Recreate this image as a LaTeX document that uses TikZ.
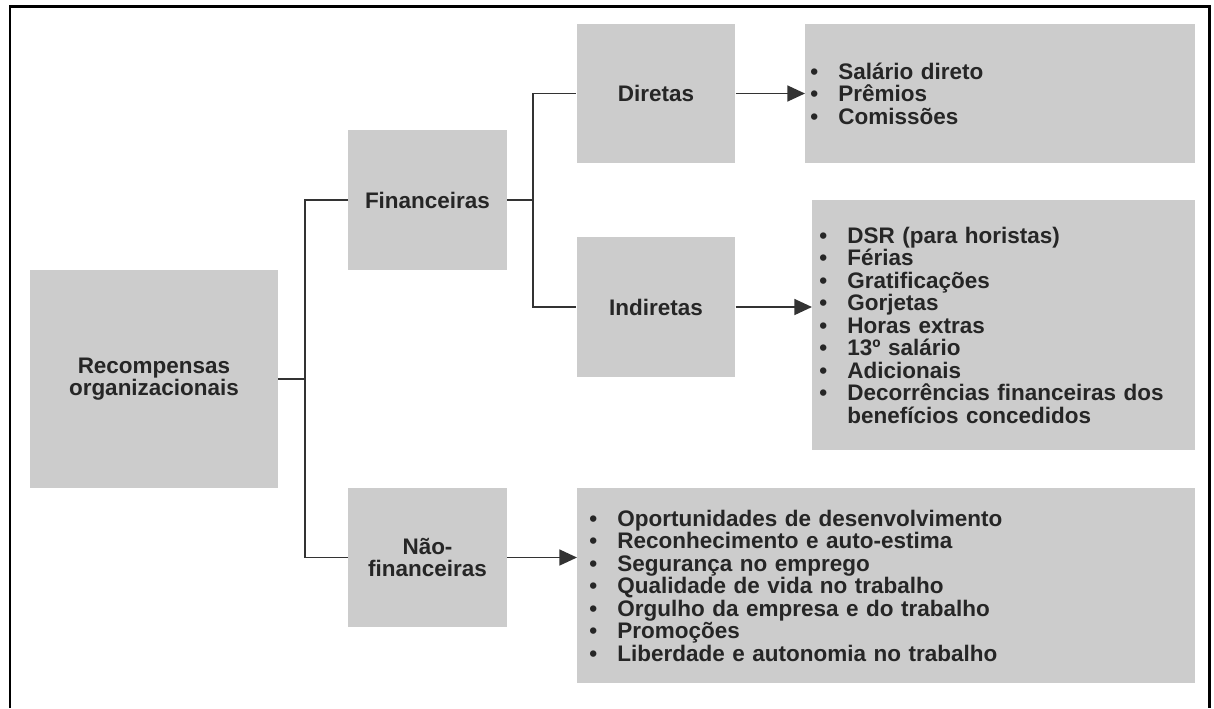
\documentclass[tikz,border=0pt]{standalone}
\usepackage{fontspec}
\setmainfont{Liberation Sans}
\usepackage{tikz}
\usetikzlibrary{arrows.meta}

\newcommand{\bul}{\makebox[1.25em][l]{\textbullet}}

\begin{document}
\begin{tikzpicture}[x=0.02cm,y=-0.02cm,
			box/.style={fill=black!20,text=black!85,
				font=\fontsize{12.8}{12.8}\selectfont\bfseries,
				align=center,inner sep=0pt},
			small box/.style={box,minimum width=3.17cm,minimum height=2.79cm},
			list box/.style={box,align=left,anchor=north west},
			link/.style={draw=black!80,line width=1.1pt},
			arrow/.style={link,-{Triangle[length=10pt,width=9pt]}}]

			\useasboundingbox (0,0) rectangle (1214,708);
			\draw[line width=1.7pt] (10,708) -- (10,6.5) -- (1209,6.5) -- (1209,708);

			\node[box,minimum width=4.96cm,minimum height=4.36cm] (rec) at (154,379)
				{Recompensas\\organizacionais};
			\node[small box] (fin) at (427.5,200) {Financeiras};
			\node[small box] (nf) at (427.5,557.5) {Não-\\financeiras};
			\node[small box] (dir) at (656,93.5) {Diretas};
			\node[small box] (ind) at (656,307) {Indiretas};

			\node[list box,inner xsep=0.1cm,text width=7.6cm,minimum height=2.78cm]
				(l1) at (805,24)
				{\bul Salário direto\\
				 \bul Prêmios\\
				 \bul Comissões};
			\node[list box,inner xsep=0.14cm,text width=7.38cm,minimum height=5cm]
				(l2) at (812,200)
				{\bul DSR (para horistas)\\
				 \bul Férias\\
				 \bul Gratificações\\
				 \bul Gorjetas\\
				 \bul Horas extras\\
				 \bul 13º salário\\
				 \bul Adicionais\\
				 \bul Decorrências financeiras dos\\
				 \hspace*{1.25em}benefícios concedidos};
			\node[list box,inner xsep=0.24cm,text width=11.88cm,minimum height=3.9cm]
				(l3) at (577,488)
				{\bul Oportunidades de desenvolvimento\\
				 \bul Reconhecimento e auto-estima\\
				 \bul Segurança no emprego\\
				 \bul Qualidade de vida no trabalho\\
				 \bul Orgulho da empresa e do trabalho\\
				 \bul Promoções\\
				 \bul Liberdade e autonomia no trabalho};

			\draw[link] (rec.east) -- ++(27,0) |- (fin.west);
			\draw[link] (rec.east) -- ++(27,0) |- (nf.west);
			\draw[link] (fin.east) -- ++(26,0) |- (dir.west);
			\draw[link] (fin.east) -- ++(26,0) |- (ind.west);

			\draw[arrow] (dir.east) -- (dir.east -| l1.west);
			\draw[arrow] (ind.east) -- (ind.east -| l2.west);
			\draw[arrow] (nf.east) -- (nf.east -| l3.west);
		\end{tikzpicture}
\end{document}
